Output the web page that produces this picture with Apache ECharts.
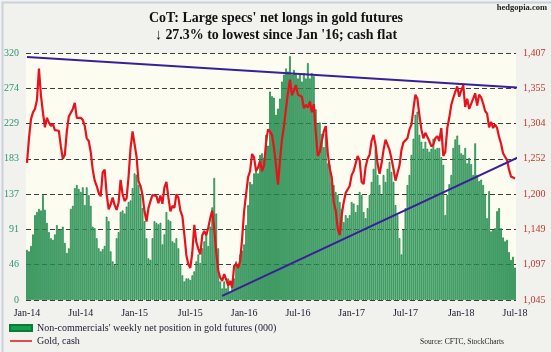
<!DOCTYPE html>
<html>
<head>
<meta charset="utf-8">
<script src="https://cdn.jsdelivr.net/npm/echarts@6/dist/echarts.min.js"></script>
<style>
html, body { margin: 0; padding: 0; background: #f1f1ee; }
#main { width: 551px; height: 352px; }
</style>
</head>
<body>
<div id="main"></div>
<script>
// x-axis tick labels and the week index they sit on
var tickLabels = ['Jan-14', 'Jul-14', 'Jan-15', 'Jul-15', 'Jan-16', 'Jul-16', 'Jan-17', 'Jul-17', 'Jan-18', 'Jul-18'];
var tickIdx = [0, 27, 54, 82, 109, 136, 163, 190, 218, 245];
var leftTicks = ['0', '46', '91', '137', '183', '229', '274', '320'];
var rightTicks = ['1,045', '1,097', '1,149', '1,200', '1,252', '1,304', '1,355', '1,407'];

// non-commercials' weekly net position in gold futures (000)
var netLongs = [65, 63, 70, 85, 110, 114, 118, 116, 136, 117,
    100, 88, 80, 78, 85, 97, 91, 92, 95, 74,
    61, 67, 118, 122, 145, 149, 144, 140, 146, 123,
    146, 136, 122, 95, 93, 80, 67, 63, 66, 70,
    108, 102, 63, 50, 45, 80, 88, 114, 116, 112,
    121, 127, 129, 145, 164, 162, 149, 136, 119, 102,
    80, 54, 52, 80, 102, 100, 98, 100, 72, 85,
    114, 104, 102, 76, 74, 80, 67, 45, 32, 24,
    28, 28, 26, 32, 37, 50, 59, 48, 67, 76,
    85, 70, 95, 120, 158, 112, 67, 24, 15, 24,
    15, 28, 11, 24, 28, 50, 46, 59, 64, 72,
    97, 123, 153, 150, 164, 168, 164, 188, 190, 184,
    214, 200, 270, 264, 262, 240, 248, 261, 283, 292,
    300, 296, 316, 292, 298, 294, 287, 292, 283, 294,
    287, 307, 287, 294, 290, 247, 228, 230, 215, 198,
    215, 177, 175, 153, 149, 140, 136, 127, 118, 101,
    110, 106, 110, 127, 125, 114, 123, 140, 136, 114,
    106, 119, 136, 153, 170, 196, 162, 149, 136, 162,
    153, 170, 179, 166, 153, 123, 110, 80, 59, 91,
    119, 149, 162, 188, 209, 240, 244, 214, 205, 196,
    205, 196, 192, 196, 209, 195, 197, 197, 185, 175,
    110, 136, 150, 162, 197, 208, 213, 201, 190, 188,
    197, 177, 184, 176, 162, 203, 162, 154, 156, 149,
    137, 106, 141, 89, 91, 93, 115, 119, 93, 81,
    76, 78, 62, 52, 56, 42];

// gold, cash ($/oz)
var goldCash = [1246, 1282, 1310, 1320, 1325, 1338, 1384, 1345, 1320, 1298,
    1312, 1305, 1300, 1303, 1294, 1296, 1293, 1270, 1252, 1258,
    1292, 1314, 1316, 1325, 1334, 1312, 1310, 1312, 1309, 1300,
    1282, 1278, 1262, 1236, 1220, 1212, 1202, 1197, 1232, 1236,
    1200, 1178, 1185, 1195, 1184, 1177, 1188, 1221, 1200, 1190,
    1194, 1226, 1268, 1292, 1290, 1255, 1219, 1212, 1199, 1175,
    1160, 1180, 1190, 1199, 1201, 1197, 1187, 1198, 1186, 1210,
    1218, 1195, 1175, 1183, 1180, 1200, 1195, 1176, 1168, 1141,
    1111, 1097, 1092, 1115, 1155, 1130, 1120, 1112, 1140, 1146,
    1140, 1151, 1165, 1176, 1150, 1115, 1088, 1078, 1073, 1083,
    1075, 1066, 1073, 1063, 1095, 1098, 1092, 1102, 1135, 1175,
    1200, 1225, 1234, 1259, 1254, 1234, 1239, 1249, 1234, 1242,
    1275, 1295, 1292, 1287, 1268, 1243, 1214, 1250, 1280, 1300,
    1325, 1348, 1368, 1345, 1352, 1360, 1346, 1346, 1343, 1326,
    1331, 1327, 1336, 1320, 1332, 1290, 1256, 1262, 1278, 1292,
    1300, 1260, 1238, 1225, 1188, 1176, 1150, 1140, 1170, 1188,
    1202, 1200, 1212, 1228, 1234, 1245, 1256, 1250, 1218, 1215,
    1240, 1252, 1258, 1278, 1287, 1272, 1245, 1230, 1245, 1265,
    1280, 1278, 1265, 1252, 1237, 1220, 1218, 1242, 1265, 1276,
    1276, 1282, 1295, 1302, 1325, 1346, 1340, 1316, 1295, 1282,
    1290, 1292, 1278, 1270, 1273, 1282, 1285, 1278, 1297, 1256,
    1262, 1297, 1312, 1331, 1341, 1350, 1358, 1343, 1352, 1360,
    1328, 1340, 1325, 1324, 1340, 1348, 1330, 1346, 1342, 1333,
    1322, 1318, 1298, 1306, 1297, 1302, 1297, 1284, 1274, 1260,
    1255, 1250, 1236, 1226, 1224, 1223];

// trend lines on gold: [week index, price]
var upperTrend = [[0, 1401], [248, 1356]];
var lowerTrend = [[98, 1051], [248, 1256]];

var barName = "Non-commercials' weekly net position in gold futures (000)";
var lineName = 'Gold, cash';
var serif = 'Liberation Serif';

var weeks = [];
for (var i = 0; i < netLongs.length; i++) {
    weeks.push(String(i));
}

var chart = echarts.init(document.getElementById('main'));

var option = {
    backgroundColor: '#f1f1ee',
    animation: false,
    graphic: [
        {type: 'rect', left: 0, top: 0, shape: {width: 550, height: 351},
            style: {fill: 'none', stroke: '#c9d2de', lineWidth: 2}},
        {type: 'text', x: 276, y: 18, scaleX: 0.93,
            style: {text: "CoT: Large specs' net longs in gold futures", fontFamily: serif, fontWeight: 'bold',
                fontSize: 15, fill: '#111', textAlign: 'center', textVerticalAlign: 'middle'}},
        {type: 'text', x: 276, y: 35, scaleX: 0.93,
            style: {text: "\u2193 27.3% to lowest since Jan '16; cash flat", fontFamily: serif, fontWeight: 'bold',
                fontSize: 15, fill: '#111', textAlign: 'center', textVerticalAlign: 'middle'}},
        {type: 'text', x: 547, y: 8,
            style: {text: 'hedgopia.com', fontFamily: serif, fontWeight: 'bold', fontSize: 8.5,
                fill: '#222', textAlign: 'right', textVerticalAlign: 'middle'}},
        {type: 'text', x: 504, y: 342,
            style: {text: 'Source: CFTC, StockCharts', fontFamily: serif, fontSize: 7.5,
                fill: '#222', textAlign: 'right', textVerticalAlign: 'middle'}}
    ],
    legend: {
        orient: 'vertical',
        left: 9,
        top: 323,
        padding: 0,
        itemGap: 3,
        itemWidth: 22,
        itemHeight: 6,
        textStyle: {fontFamily: serif, fontSize: 10, color: '#1a1a33'},
        data: [
            {name: barName, icon: 'rect', itemStyle: {color: '#12a14a'}},
            {name: lineName, icon: 'path://M0,0L0.01,0M0,2.2L22,2.2L22,3.8L0,3.8ZM0,6L0.01,6',
                itemStyle: {color: '#e8121c', borderWidth: 0}}
        ]
    },
    grid: {
        left: 26,
        right: 35,
        top: 53,
        bottom: 52,
        show: true,
        backgroundColor: '#fcfcf1',
        borderWidth: 0
    },
    xAxis: [
        {
            type: 'category',
            data: weeks,
            axisTick: {show: false},
            axisLine: {show: false},
            axisLabel: {
                interval: function (idx) { return tickIdx.indexOf(idx) >= 0; },
                formatter: function (v, idx) { return tickLabels[tickIdx.indexOf(idx)]; },
                fontFamily: serif,
                fontSize: 10,
                color: '#1a1a33',
                margin: 8
            }
        },
        {
            type: 'value',
            show: false,
            min: -0.5,
            max: netLongs.length - 0.5
        }
    ],
    yAxis: [
        {
            type: 'value',
            min: 0,
            max: 320,
            interval: 320 / 7,
            axisLine: {show: false},
            axisTick: {show: false},
            axisLabel: {
                formatter: function (v) { return leftTicks[Math.round(v / (320 / 7))]; },
                fontFamily: serif,
                fontSize: 10,
                color: '#2e9470',
                margin: 7
            },
            splitLine: {lineStyle: {color: '#3c3c3c', width: 1, type: [5, 3]}}
        },
        {
            type: 'value',
            position: 'right',
            min: 1045,
            max: 1407,
            interval: 362 / 7,
            axisLine: {show: false},
            axisTick: {show: false},
            axisLabel: {
                formatter: function (v) { return rightTicks[Math.round((v - 1045) / (362 / 7))]; },
                fontFamily: serif,
                fontSize: 10,
                color: '#c0392b',
                margin: 7
            },
            splitLine: {show: false}
        }
    ],
    series: [
        {
            name: barName,
            type: 'bar',
            data: netLongs,
            barCategoryGap: '15%',
            itemStyle: {color: '#7ccf9f', borderColor: '#0b7a38', borderWidth: 0.7}
        },
        {
            name: lineName,
            type: 'line',
            yAxisIndex: 1,
            data: goldCash,
            symbol: 'none',
            lineStyle: {color: '#e8121c', width: 2.2},
            itemStyle: {color: '#e8121c'}
        },
        {
            type: 'line',
            xAxisIndex: 1,
            yAxisIndex: 1,
            data: upperTrend,
            symbol: 'none',
            clip: false,
            lineStyle: {color: '#3a1f9a', width: 2}
        },
        {
            type: 'line',
            xAxisIndex: 1,
            yAxisIndex: 1,
            data: lowerTrend,
            symbol: 'none',
            clip: false,
            lineStyle: {color: '#3a1f9a', width: 2}
        }
    ]
};

chart.setOption(option);
</script>
</body>
</html>
